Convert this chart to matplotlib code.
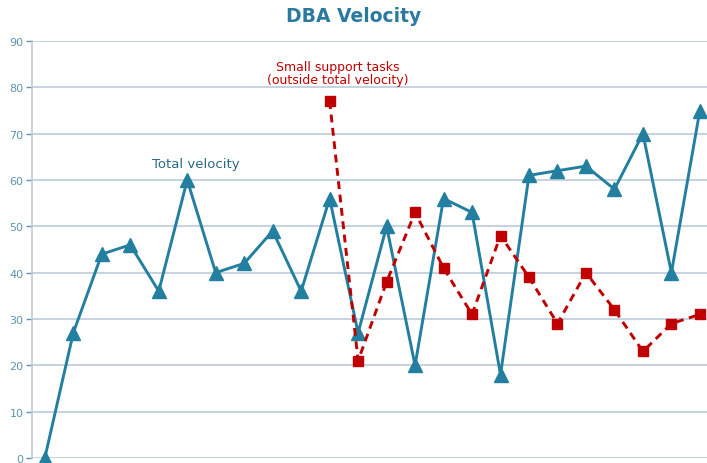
import numpy as np
import matplotlib.pyplot as plt

plt.rcParams['font.family'] = 'DejaVu Sans'

# sprint index and velocities
sprints = np.arange(24)
total_velocity = [0, 27, 44, 46, 36, 60, 40, 42, 49, 36, 56, 27,
                  50, 20, 56, 53, 18, 61, 62, 63, 58, 70, 40, 75]
support_start = 10
support_tasks = [77, 21, 38, 53, 41, 31, 48, 39, 29, 40, 32, 23, 29, 31]

teal = '#237fa0'
red = '#c00000'
grid_col = '#bccbd8'
tick_col = '#5f93ae'

fig = plt.figure(figsize=(7.07, 4.64), dpi=100)
ax = fig.add_axes([32 / 707, 5 / 464, 675 / 707, 417 / 464])

ax.plot(sprints, total_velocity, color=teal, lw=2.1, marker='^', ms=9.5,
        clip_on=False, zorder=3)
ax.plot(sprints[support_start:], support_tasks, color=red, lw=2.1, ls=(0, (2.7, 1.9)),
        marker='s', ms=7, clip_on=False, zorder=4)

ax.set_ylim(0, 90)
ax.set_xlim(-0.45, 23.25)
ax.set_yticks(range(0, 91, 10))
ax.set_xticks([])
ax.yaxis.grid(True, color=grid_col, lw=1.2)
ax.set_axisbelow(True)
ax.tick_params(axis='y', colors=tick_col, labelsize=8, length=4, width=1, pad=2)
for s in ['top', 'right', 'bottom']:
    ax.spines[s].set_visible(False)
ax.spines['left'].set_color(grid_col)
ax.spines['left'].set_linewidth(1.2)

ax.text(5.3, 62.8, 'Total velocity', color='#2a6a88', fontsize=9.5, ha='center')
ax.text(10.3, 80.9, 'Small support tasks\n(outside total velocity)', color=red,
        fontsize=9, ha='center', linespacing=1.0)

fig.text(0.5, 0.965, 'DBA Velocity', color='#2a7aa0', fontsize=13.5,
         fontweight='bold', ha='center', va='center')

fig.savefig('out.png', dpi=100)
